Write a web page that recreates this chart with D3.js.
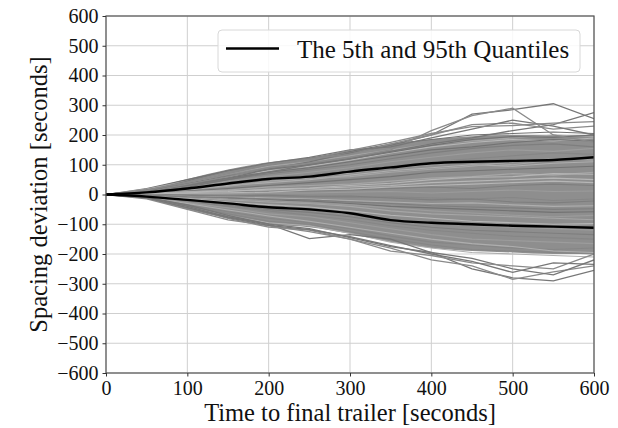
<!DOCTYPE html>
<html><head><meta charset="utf-8">
<script src="https://cdn.jsdelivr.net/npm/d3@7"></script>
<style>body{margin:0;background:#fff}svg{display:block}</style>
</head><body><svg id="c" width="618" height="428"></svg>
<script>
// ---- data ----
const times = [0,50,100,150,200,250,300,350,400,450,500,550,600];
const xTicks = [0,100,200,300,400,500,600];
const yTicks = [-600,-500,-400,-300,-200,-100,0,100,200,300,400,500,600];
const q95 = [0,7,20,37,52,60,77,91,105,110,113,116,125];
const q05 = [0,-7,-18,-30,-43,-50,-63,-86,-95,-100,-105,-108,-112];
const bandUpper = [0,20,52,84,108,124,146,168,186,196,200,200,200];
const bandLower = [0,-15,-50,-78,-100,-110,-132,-160,-180,-190,-195,-200,-200];
const outlierTraces = [
  [0,12,30,55,85,110,140,165,200,270,285,305,255],
  [0,10,35,60,90,105,125,150,215,265,290,200,175],
  [0,8,25,50,75,100,120,145,170,190,215,235,275],
  [0,15,40,70,100,120,135,170,200,235,240,220,230],
  [0,10,45,80,105,125,150,160,190,220,250,230,200],
  [0,14,42,75,102,118,148,175,205,228,232,240,245],
  [0,-10,-35,-70,-100,-148,-135,-150,-195,-250,-280,-290,-255],
  [0,-12,-45,-80,-110,-120,-150,-180,-220,-240,-285,-260,-240],
  [0,-8,-40,-75,-100,-115,-145,-175,-195,-215,-250,-270,-220],
  [0,-15,-50,-85,-105,-125,-150,-190,-205,-230,-240,-250,-200],
  [0,-11,-44,-78,-104,-118,-142,-172,-200,-225,-262,-230,-235]
];
const bulkTraces = [
  [0,20,50,80,100,120,145,170,185,200,205,210,205],
  [0,18,45,70,95,110,130,150,170,180,190,200,195],
  [0,15,40,60,80,95,115,140,160,175,185,180,190],
  [0,12,30,50,70,85,100,120,140,155,165,170,160],
  [0,10,25,45,60,75,90,110,125,140,150,145,155],
  [0,8,20,35,55,65,80,95,110,120,130,140,135],
  [0,6,15,30,40,50,65,80,90,100,95,105,110],
  [0,5,12,20,30,40,50,60,75,80,85,90,95],
  [0,4,10,15,25,30,35,45,55,60,70,65,75],
  [0,3,8,12,15,20,25,30,40,45,50,55,50],
  [0,2,5,8,10,12,15,20,25,20,30,35,30],
  [0,1,2,3,5,5,8,10,5,10,15,10,12],
  [0,0,-2,-4,-5,-8,-10,-8,-12,-15,-10,-20,-15],
  [0,-2,-5,-8,-12,-15,-20,-25,-30,-28,-35,-40,-38],
  [0,-3,-8,-12,-18,-22,-30,-40,-45,-50,-55,-60,-58],
  [0,-4,-10,-18,-25,-30,-40,-55,-65,-70,-75,-80,-85],
  [0,-5,-14,-25,-35,-42,-55,-70,-80,-90,-95,-100,-98],
  [0,-6,-20,-35,-50,-60,-75,-95,-110,-120,-125,-130,-135],
  [0,-8,-28,-45,-65,-75,-95,-115,-135,-150,-155,-160,-165],
  [0,-10,-35,-58,-80,-95,-115,-140,-160,-170,-180,-185,-180],
  [0,-12,-42,-70,-95,-105,-130,-160,-180,-195,-200,-205,-210],
  [0,14,35,55,75,90,110,130,150,160,175,185,180],
  [0,9,22,40,50,60,72,90,100,110,100,115,120],
  [0,2,6,10,18,22,30,38,50,58,60,70,68],
  [0,-1,-3,-5,-2,-6,-5,-12,-18,-15,-25,-28,-22],
  [0,-3,-6,-15,-20,-28,-35,-45,-55,-62,-70,-75,-70],
  [0,-7,-22,-40,-55,-70,-85,-105,-120,-130,-140,-145,-150],
  [0,-9,-30,-52,-72,-90,-110,-130,-150,-165,-175,-190,-195],
  [0,16,38,62,85,100,120,142,165,185,195,192,200],
  [0,7,18,28,45,55,60,75,85,95,110,120,115],
  [0,3,4,6,8,15,18,25,30,35,40,45,40],
  [0,-2,-8,-10,-15,-18,-25,-30,-38,-42,-45,-50,-48],
  [0,-6,-18,-30,-42,-50,-65,-85,-95,-105,-110,-115,-120],
  [0,-11,-38,-65,-90,-100,-125,-150,-170,-185,-190,-195,-200]
];
const legendLabel = "The 5th and 95th Quantiles";
const xLabel = "Time to final trailer [seconds]";
const yLabel = "Spacing deviation [seconds]";

// ---- drawing ----
const svg = d3.select("#c");
const m = {l:106, r:594, t:16, b:373};
const x = d3.scaleLinear().domain([0,600]).range([m.l,m.r]);
const y = d3.scaleLinear().domain([-600,600]).range([m.b,m.t]);
const font = "'Liberation Serif','Times New Roman',serif";

// grid
svg.append("g").selectAll("line").data(xTicks).join("line")
  .attr("x1",d=>x(d)).attr("x2",d=>x(d)).attr("y1",m.t).attr("y2",m.b)
  .attr("stroke","#cfcfcf").attr("stroke-width",1);
svg.append("g").selectAll("line").data(yTicks).join("line")
  .attr("x1",m.l).attr("x2",m.r).attr("y1",d=>y(d)).attr("y2",d=>y(d))
  .attr("stroke","#cfcfcf").attr("stroke-width",1);

svg.append("defs").append("clipPath").attr("id","pc")
  .append("rect").attr("x",m.l).attr("y",m.t).attr("width",m.r-m.l).attr("height",m.b-m.t);
const plot = svg.append("g").attr("clip-path","url(#pc)");

// dense band
const area = d3.area().x((d,i)=>x(times[i])).y0((d,i)=>y(bandLower[i])).y1((d,i)=>y(bandUpper[i])).curve(d3.curveMonotoneX);
plot.append("path").datum(times).attr("d",area).attr("fill","#8e8e8e");

const line = d3.line().x((d,i)=>x(times[i])).y(d=>y(d));
const grays = ["#727272","#a6a6a6","#b6b6b6","#7e7e7e","#9c9c9c","#868686","#aeaeae"];
plot.append("g").selectAll("path").data(bulkTraces).join("path")
  .attr("d",line).attr("fill","none")
  .attr("stroke",(d,i)=>grays[i%grays.length]).attr("stroke-width",1.1);
plot.append("g").selectAll("path").data(outlierTraces).join("path")
  .attr("d",line).attr("fill","none")
  .attr("stroke",(d,i)=>i%2?"#8a8a8a":"#777").attr("stroke-width",1.3);

// quantiles
const qline = d3.line().x((d,i)=>x(times[i])).y(d=>y(d)).curve(d3.curveMonotoneX);
[q95,q05].forEach(q=>plot.append("path").datum(q).attr("d",qline)
  .attr("fill","none").attr("stroke","#000").attr("stroke-width",2.4));

// frame
svg.append("rect").attr("x",m.l).attr("y",m.t).attr("width",m.r-m.l).attr("height",m.b-m.t)
  .attr("fill","none").attr("stroke","#555").attr("stroke-width",1.2);

// axes
const fmt = d => d<0 ? "\u2212"+Math.abs(d) : String(d);
const xa = svg.append("g").attr("transform",`translate(0,${m.b})`)
  .call(d3.axisBottom(x).tickValues(xTicks).tickFormat(fmt).tickSize(3.5).tickPadding(4));
const ya = svg.append("g").attr("transform",`translate(${m.l},0)`)
  .call(d3.axisLeft(y).tickValues(yTicks).tickFormat(fmt).tickSize(3.5).tickPadding(4));
[xa,ya].forEach(a=>{
  a.attr("font-family",font).attr("font-size",20);
  a.select(".domain").remove();
  a.selectAll("line").attr("stroke","#333");
  a.selectAll("text").attr("font-family",font).attr("font-size",20).attr("fill","#111");
});
xa.selectAll("text").attr("dy","0.72em");

// axis labels
svg.append("text").attr("x",(m.l+m.r)/2).attr("y",421).attr("text-anchor","middle")
  .attr("font-family",font).attr("font-size",24.5).attr("fill","#111").text(xLabel);
svg.append("text").attr("transform",`translate(47,${(m.t+m.b)/2}) rotate(-90)`)
  .attr("text-anchor","middle").attr("font-family",font).attr("font-size",24.5).attr("fill","#111").text(yLabel);

// legend
const lg = svg.append("g");
lg.append("rect").attr("x",218).attr("y",30).attr("width",362).attr("height",42).attr("rx",4)
  .attr("fill","#fff").attr("fill-opacity",0.85).attr("stroke","#d8d8d8");
lg.append("line").attr("x1",226).attr("x2",279).attr("y1",48.5).attr("y2",48.5)
  .attr("stroke","#000").attr("stroke-width",2.4);
lg.append("text").attr("x",297).attr("y",58).attr("font-family",font).attr("font-size",25)
  .attr("fill","#111").text(legendLabel);
</script></body></html>
